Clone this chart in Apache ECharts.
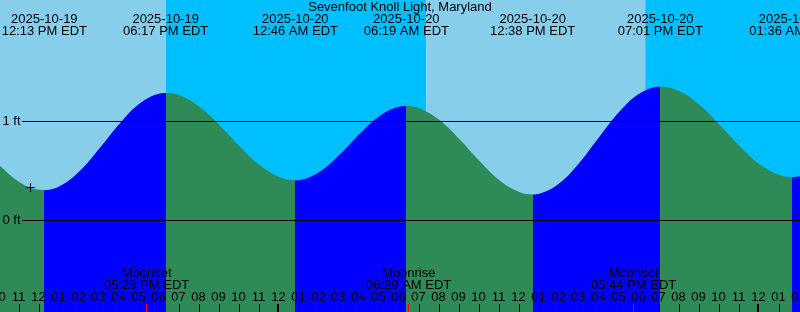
<!DOCTYPE html>
<html><head><meta charset="utf-8">
<script src="https://cdn.jsdelivr.net/npm/echarts@6/dist/echarts.min.js"></script>
<style>html,body{margin:0;padding:0;background:#fff}#c{width:800px;height:312px}</style>
</head><body><div id="c"></div>
<script>
// ---- data ----
const stationTitle = 'Sevenfoot Knoll Light, Maryland';
// hours since 2025-10-19 00:00 EDT
const curveTimes = [10, 10.5, 11, 11.5, 12, 12.217, 13, 14, 15, 16, 17, 18, 18.283, 19, 20, 21, 22, 23, 24, 24.767, 25, 26, 27, 28, 29, 30, 30.317, 31, 32, 33, 34, 35, 36, 36.633, 37, 38, 39, 40, 41, 42, 43.017, 44, 45, 46, 47, 48, 49, 49.6, 50];
const curveFeet = [0.553, 0.46, 0.385, 0.334, 0.31, 0.308, 0.348, 0.503, 0.735, 0.983, 1.184, 1.283, 1.288, 1.262, 1.144, 0.958, 0.746, 0.558, 0.436, 0.406, 0.409, 0.494, 0.668, 0.878, 1.058, 1.151, 1.157, 1.131, 1.009, 0.815, 0.595, 0.402, 0.285, 0.263, 0.272, 0.381, 0.592, 0.854, 1.105, 1.285, 1.352, 1.303, 1.163, 0.962, 0.748, 0.566, 0.458, 0.439, 0.447];
const extremaTimes = [12.217, 18.283, 24.767, 30.317, 36.633, 43.017, 49.6];
const extremaKinds = ['low', 'high', 'low', 'high', 'low', 'high', 'low'];
const extremaDates = ['2025-10-19', '2025-10-19', '2025-10-20', '2025-10-20', '2025-10-20', '2025-10-20', '2025-10-21'];
const extremaClock = ['12:13 PM EDT', '06:17 PM EDT', '12:46 AM EDT', '06:19 AM EDT', '12:38 PM EDT', '07:01 PM EDT', '01:36 AM EDT'];
const bandStarts = [10, 18.3, 31.32, 42.26];
const bandEnds = [18.3, 31.32, 42.26, 50];
const bandKinds = ['day', 'night', 'day', 'night'];
const moonTimes = [17.383, 30.483, 41.733];
const moonNames = ['Moonset', 'Moonrise', 'Moonset'];
const moonClock = ['05:23 PM EDT', '06:29 AM EDT', '05:44 PM EDT'];
const midnightTimes = [24, 48];
const footLevels = [0, 1];
const footLabels = ['0 ft', '1 ft'];
const markerPoint = [11.5, 0.335];
const hourMin = 10, hourMax = 50;
const feetMin = -0.92424, feetMax = 2.22727;

// ---- styles ----
const DAY = '#87CEEB', NIGHT = '#00BFFF', RISING = '#0000FF', FALLING = '#2E8B57';
const FONT = 'Liberation Sans';
function txt(text, x, y, align) {
  return { type: 'text', x: x, y: y, style: { text: text, fill: '#000', fontSize: 13, fontFamily: FONT, align: align || 'center', verticalAlign: 'middle' } };
}

const boundaries = [hourMin].concat(extremaTimes, [hourMax]);
const pieces = [];
for (let i = 0; i < boundaries.length - 1; i++) {
  let rising = i < extremaKinds.length ? extremaKinds[i] === 'high' : extremaKinds[extremaKinds.length - 1] === 'low';
  const p = { gte: boundaries[i], color: rising ? RISING : FALLING };
  if (i === boundaries.length - 2) p.lte = boundaries[i + 1]; else p.lt = boundaries[i + 1];
  pieces.push(p);
}
const hourTicks = [];
for (let h = hourMin + 1; h <= hourMax; h++) hourTicks.push(h);

const chart = echarts.init(document.getElementById('c'), null, { renderer: 'canvas' });
chart.setOption({
  animation: false,
  title: { text: stationTitle, left: 'center', top: 1, padding: 0, textStyle: { fontSize: 13, fontWeight: 'normal', color: '#000', fontFamily: FONT } },
  grid: { left: 0, right: 0, top: 0, bottom: 0, containLabel: false, outerBoundsMode: 'none' },
  xAxis: {
    type: 'value', min: hourMin, max: hourMax, interval: 1, z: 6, position: 'bottom',
    axisLine: { show: false, onZero: false },
    splitLine: { show: false },
    axisTick: { show: false },
    axisLabel: {
      show: true, inside: true, margin: 8, color: '#000', fontSize: 13, fontFamily: FONT, padding: [0, 3, 0, 0],
      showMinLabel: true, showMaxLabel: true,
      formatter: function (v) { const h = (Math.round(v) % 12) || 12; return (h < 10 ? '0' : '') + h; }
    }
  },
  yAxis: { type: 'value', min: feetMin, max: feetMax, show: false },
  visualMap: { show: false, type: 'piecewise', dimension: 0, seriesIndex: 1, pieces: pieces, outOfRange: { color: FALLING } },
  series: [
    {
      type: 'custom', z: 1, silent: true,
      data: bandStarts.map((s, i) => [s, bandEnds[i]]),
      encode: { x: [0, 1] },
      renderItem: function (params, api) {
        const i = params.dataIndex;
        const p0 = api.coord([bandStarts[i], feetMax]);
        const p1 = api.coord([bandEnds[i], feetMin]);
        return { type: 'rect', shape: { x: p0[0], y: p0[1], width: p1[0] - p0[0], height: p1[1] - p0[1] }, style: { fill: bandKinds[i] === 'day' ? DAY : NIGHT } };
      }
    },
    {
      type: 'line', z: 2, silent: true, smooth: 0.4, symbol: 'none',
      data: curveTimes.map((t, i) => [t, curveFeet[i]]),
      lineStyle: { width: 0, opacity: 0 },
      areaStyle: { opacity: 1, origin: 'start' }
    },
    {
      type: 'custom', z: 3, silent: true,
      data: footLevels.map(v => [hourMin, v]),
      renderItem: function (params, api) {
        const i = params.dataIndex;
        const y = api.coord([hourMin, footLevels[i]])[1];
        const xe = api.coord([hourMax, footLevels[i]])[0];
        return { type: 'group', children: [
          { type: 'line', shape: { x1: 22, y1: y, x2: xe, y2: y }, style: { stroke: '#000', lineWidth: 1 } },
          txt(footLabels[i], 20.5, y - 0.2, 'right')
        ] };
      }
    },
    {
      type: 'custom', z: 5, silent: true,
      data: extremaTimes.map(t => [t, 0]),
      renderItem: function (params, api) {
        const i = params.dataIndex;
        const x = api.coord([extremaTimes[i], 0])[0];
        return { type: 'group', children: [ txt(extremaDates[i], x, 19.5), txt(extremaClock[i], x, 31.3) ] };
      }
    },
    {
      type: 'custom', z: 5, silent: true,
      data: moonTimes.map(t => [t, 0]),
      renderItem: function (params, api) {
        const i = params.dataIndex;
        const p = api.coord([moonTimes[i], feetMin]);
        return { type: 'group', children: [
          txt(moonNames[i], p[0] - 1, 273.8), txt(moonClock[i], p[0] - 1, 285.3),
          { type: 'line', shape: { x1: Math.round(p[0]) - 1.5, y1: p[1] - 8, x2: Math.round(p[0]) - 1.5, y2: p[1] }, style: { stroke: '#FF0000', lineWidth: 1 } }
        ] };
      }
    },
    {
      type: 'custom', z: 7, silent: true,
      data: [[hourMin, 0]],
      renderItem: function (params, api) {
        const children = hourTicks.map(function (h) {
          const p = api.coord([h, feetMin]);
          const midnight = midnightTimes.indexOf(h) >= 0;
          const x = midnight ? Math.round(p[0]) - 2 : Math.round(p[0]) - 0.5;
          return { type: 'line', shape: { x1: x, y1: p[1] - 8, x2: x, y2: p[1] }, style: { stroke: '#000000', lineWidth: midnight ? 2 : 1 } };
        });
        return { type: 'group', children: children };
      }
    },
    {
      type: 'custom', z: 5, silent: true,
      data: [markerPoint],
      renderItem: function (params, api) {
        const p = api.coord(markerPoint);
        const cx = Math.floor(p[0]), cy = Math.floor(p[1]);
        return { type: 'group', children: [
          { type: 'rect', shape: { x: cx - 4, y: cy, width: 9, height: 1 }, style: { fill: '#000' } },
          { type: 'rect', shape: { x: cx, y: cy - 4, width: 1, height: 9 }, style: { fill: '#000' } }
        ] };
      }
    }
  ]
});
</script></body></html>
